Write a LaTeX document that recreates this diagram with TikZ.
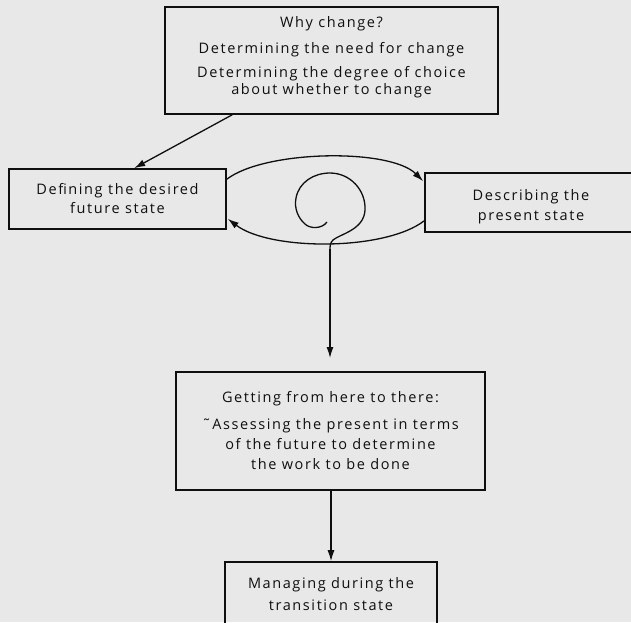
\documentclass[tikz,border=0pt]{standalone}
\usepackage{fontspec}
\setmainfont{Open Sans}[LetterSpace=11]
\usetikzlibrary{arrows.meta,calc}
\definecolor{bg}{RGB}{232,232,232}
\definecolor{ink}{RGB}{15,15,15}
\begin{document}
\begin{tikzpicture}[x=1pt,y=-1pt,
  box/.style={draw=ink,line width=1.6pt,align=center,inner sep=0pt,font=\fontsize{14.5}{20}\selectfont,text=ink},
  conn/.style={draw=ink,line width=1.3pt,-{Latex[length=11pt,width=7pt]}}]
\fill[bg] (0,0) rectangle (631,622);
\useasboundingbox (0,0) rectangle (631,622);
\clip (0,0) rectangle (631,622);
\node[box,minimum width=333pt,minimum height=107pt,font=\fontsize{14.5}{17}\selectfont] (why) at (331.5,60.5)
  {Why change?\\[9pt] Determining the need for change\\[7pt] Determining the degree of choice\\ about whether to change\rule[-9.5pt]{0pt}{0pt}};
\node[box,minimum width=217pt,minimum height=60pt,font=\fontsize{14.5}{19}\selectfont] (fut) at (117.5,199)
  {Defining the desired\\ future state};
\node[box,minimum width=212pt,minimum height=59pt] (pres) at (531,202.5)
  {\rule{0pt}{19pt}Describing the\\ present state};
\node[box,minimum width=309pt,minimum height=118pt] (get) at (330.5,431)
  {Getting from here to there:\\[7pt] \char"02DC Assessing the present in terms\\ of the future to determine\\ the work to be done};
\node[box,minimum width=212pt,minimum height=64pt,font=\fontsize{14.5}{22}\selectfont] (man) at (331,594)
  {Managing during the\\ transition state};
\coordinate (spin) at (327,222);
\coordinate (down) at (330,358);
% connectors
\draw[conn] ($(why.south west)+(68,0)$) -- ($(fut.north west)+(126,0)$);
\draw[conn] ($(fut.north east)+(0,11)$) .. controls (265,150) and (390,148) .. ($(pres.north west)+(-1,9)$);
\draw[conn] ($(pres.south west)+(0,-12)$) .. controls (385,251) and (270,251) .. ($(fut.south east)+(1,-11)$);
% spiral
\draw[ink,line width=1.3pt] (spin) .. controls (322,229) and (310,229) .. (305,224)
  .. controls (298,218) and (294,208) .. (296,198)
  .. controls (299,182) and (314,173) .. (330,173)
  .. controls (350,173) and (366,190) .. (365,210)
  .. controls (364,230) and (340,234) .. (333,240)
  .. controls (330,243) and (330,246) .. (330,250);
\draw[conn] (330,249) -- (down);
\draw[conn] (get.south -| man.north) -- (man.north);
\end{tikzpicture}
\end{document}
